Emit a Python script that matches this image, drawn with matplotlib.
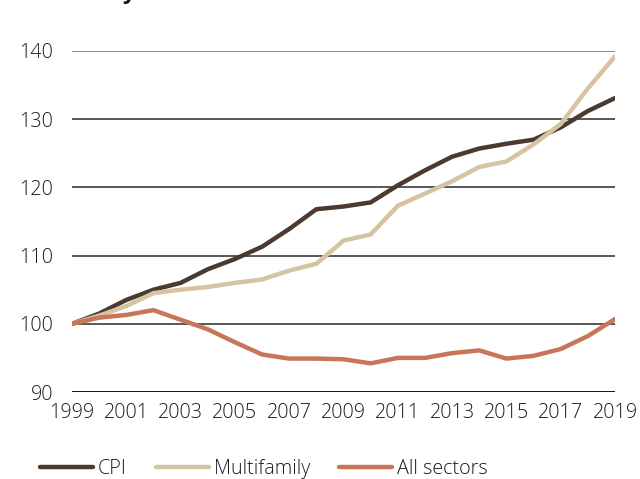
import matplotlib
matplotlib.use("Agg")
import matplotlib.pyplot as plt

years = list(range(1999, 2020))
cpi = [100, 101.5, 103.5, 105.0, 106.0, 108.0, 109.5, 111.3, 113.9, 116.8, 117.2, 117.8,
       120.3, 122.5, 124.5, 125.7, 126.4, 127.0, 128.8, 131.2, 133.1]
multifamily = [100, 101.2, 102.6, 104.5, 105.0, 105.4, 106.0, 106.5, 107.8, 108.8, 112.2, 113.1,
               117.3, 119.1, 120.9, 123.0, 123.8, 126.3, 129.3, 134.5, 139.2]
all_sectors = [100, 100.9, 101.3, 102.0, 100.6, 99.2, 97.3, 95.5, 94.9, 94.9, 94.8, 94.2,
               95.0, 95.0, 95.7, 96.1, 94.9, 95.3, 96.3, 98.2, 100.7]
series_names = ["CPI", "Multifamily", "All sectors"]
colors = ["#4b3a2f", "#d6c3a0", "#c8765a"]
yticks = [90, 100, 110, 120, 130, 140]
xticks = list(range(1999, 2020, 2))

plt.rcParams['font.family'] = ['Open Sans', 'DejaVu Sans']
plt.rcParams['font.weight'] = 'light'

fig = plt.figure(figsize=(6.4, 4.79), dpi=100)
ax = fig.add_axes([72/640, 1-392/479, (615-72)/640, (392-51)/479])

ax.axhline(140, color="#6a6a6a", lw=1.1, zorder=1)
for y in yticks[1:-1]:
    ax.axhline(y, color="#2a2a2a", lw=1.1, zorder=1)
ax.axhline(90, color="#000000", lw=2.0, zorder=1)

handles = []
for vals, name, c in zip([cpi, multifamily, all_sectors], series_names, colors):
    h, = ax.plot(years, vals, color=c, lw=3.2, label=name, zorder=3, solid_capstyle='round')
    handles.append(h)

ax.set_xlim(1999, 2019)
ax.set_ylim(90, 140)
ax.set_xticks(xticks)
ax.set_yticks(yticks)
ax.set_xticklabels([str(x) for x in xticks], fontsize=14.2, color="#1a1a1a")
ax.set_yticklabels([str(y) for y in yticks], fontsize=14.2, color="#1a1a1a")
ax.tick_params(axis='y', length=0, pad=13.5)
ax.tick_params(axis='x', length=0, pad=8)
for s in ax.spines.values():
    s.set_visible(False)
ax.patch.set_alpha(0)

leg = fig.legend(handles=handles, labels=series_names, loc='center left',
                 bbox_to_anchor=(40/640, 1-469/479), ncol=3, frameon=False,
                 fontsize=14.2, handlelength=2.7, handletextpad=0.25, columnspacing=1.45,
                 borderaxespad=0, borderpad=0)
for t in leg.get_texts():
    t.set_color("#1a1a1a")

# cut-off title at the top edge
fig.text(128/640, 1 + 1/479, "y", fontsize=16, fontweight='bold', ha='center', va='baseline',
         color="#111111")

fig.savefig("out.png", dpi=100)
